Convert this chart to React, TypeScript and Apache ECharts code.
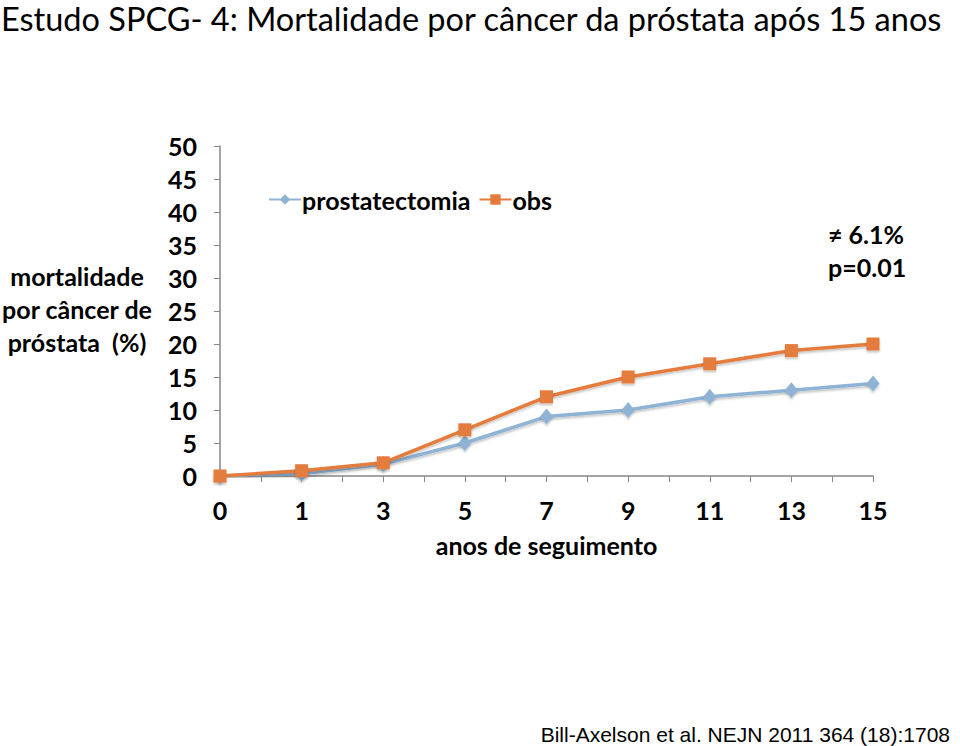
import React, { useEffect, useRef } from "react";
import * as echarts from "echarts";

const years = ["0", "1", "3", "5", "7", "9", "11", "13", "15"];
const prostatectomia = [0, 0.35, 1.8, 5, 9, 10, 12, 13, 14];
const obs = [0, 0.8, 2, 7, 12, 15, 17, 19, 20];
const yTicks = { min: 0, max: 50, interval: 5 };

const FONT = "Lato";

export default function App() {
  const ref = useRef<HTMLDivElement>(null);
  useEffect(() => {
    if (!ref.current) return;
    const chart = echarts.init(ref.current, undefined, { renderer: "svg" });
    const boldText = { fontFamily: FONT, fontWeight: "bold" as const, fontSize: 25, color: "#000" };
    const shadow = { shadowColor: "rgba(0,0,0,0.22)", shadowBlur: 2, shadowOffsetY: 2 };
    chart.setOption({
      animation: false,
      backgroundColor: "#fff",
      grid: { left: 220, top: 146, right: 87, bottom: 270 },
      legend: {
        left: 263,
        top: 182,
        itemWidth: 32,
        itemHeight: 13,
        itemGap: 8,
        textStyle: { ...boldText, padding: [0, 0, 0, -4] },
        data: ["prostatectomia", "obs"],
      },
      xAxis: {
        type: "value",
        min: 0,
        max: 8,
        interval: 0.5,
        splitLine: { show: false },
        axisLine: { lineStyle: { color: "#868686", width: 1.5 } },
        axisTick: { show: true, length: 6, lineStyle: { color: "#868686" } },
        axisLabel: {
          ...boldText,
          margin: 21,
          showMinLabel: true,
          showMaxLabel: true,
          hideOverlap: false,
          formatter: (v: number) => (Number.isInteger(v) ? years[v] : ""),
        },
        name: "anos de seguimento",
        nameLocation: "middle",
        nameGap: 56,
        nameTextStyle: boldText,
      },
      yAxis: {
        type: "value",
        min: yTicks.min,
        max: yTicks.max,
        interval: yTicks.interval,
        splitLine: { show: false },
        axisLine: { show: true, lineStyle: { color: "#868686", width: 1.5 } },
        axisTick: { show: true, length: 6, lineStyle: { color: "#868686" } },
        axisLabel: { ...boldText, margin: 23 },
      },
      graphic: [
        {
          type: "text",
          x: 1,
          y: 18,
          style: {
            text: "Estudo SPCG- 4: Mortalidade por câncer da próstata após 15 anos",
            font: "32.5px Lato, sans-serif",
            fill: "#000",
            verticalAlign: "middle",
            lineHeight: 34,
          },
        },
        {
          type: "text",
          x: 77,
          y: 309,
          style: {
            text: "mortalidade\npor câncer de\npróstata  (%)",
            font: `bold 25px ${FONT}`,
            fill: "#000",
            align: "center",
            verticalAlign: "middle",
            lineHeight: 33,
          },
        },
        {
          type: "text",
          x: 828,
          y: 250,
          style: {
            text: "≠ 6.1%\np=0.01",
            font: `bold 25px ${FONT}`,
            fill: "#000",
            align: "left",
            verticalAlign: "middle",
            lineHeight: 33,
          },
        },
        {
          type: "text",
          x: 950,
          y: 734,
          style: {
            text: "Bill-Axelson et al. NEJN 2011 364 (18):1708",
            font: "21px 'Liberation Sans', Arial, sans-serif",
            fill: "#000",
            align: "right",
            verticalAlign: "middle",
          },
        },
      ],
      series: [
        {
          name: "prostatectomia",
          type: "line",
          data: prostatectomia.map((v, i) => [i, v]),
          symbol: "diamond",
          symbolSize: [13, 16],
          itemStyle: { color: "#8FB3D5", ...shadow },
          lineStyle: { width: 3.5, color: "#8FB3D5", ...shadow },
          z: 2,
        },
        {
          name: "obs",
          type: "line",
          data: obs.map((v, i) => [i, v]),
          symbol: "rect",
          symbolSize: 13,
          itemStyle: { color: "#E47B3C", ...shadow },
          lineStyle: { width: 3.5, color: "#E47B3C", ...shadow },
          z: 3,
        },
      ],
    });
    return () => chart.dispose();
  }, []);
  return (
    <div
      ref={ref}
      style={{ position: "fixed", left: 0, top: 0, width: 960, height: 746 }}
    />
  );
}
